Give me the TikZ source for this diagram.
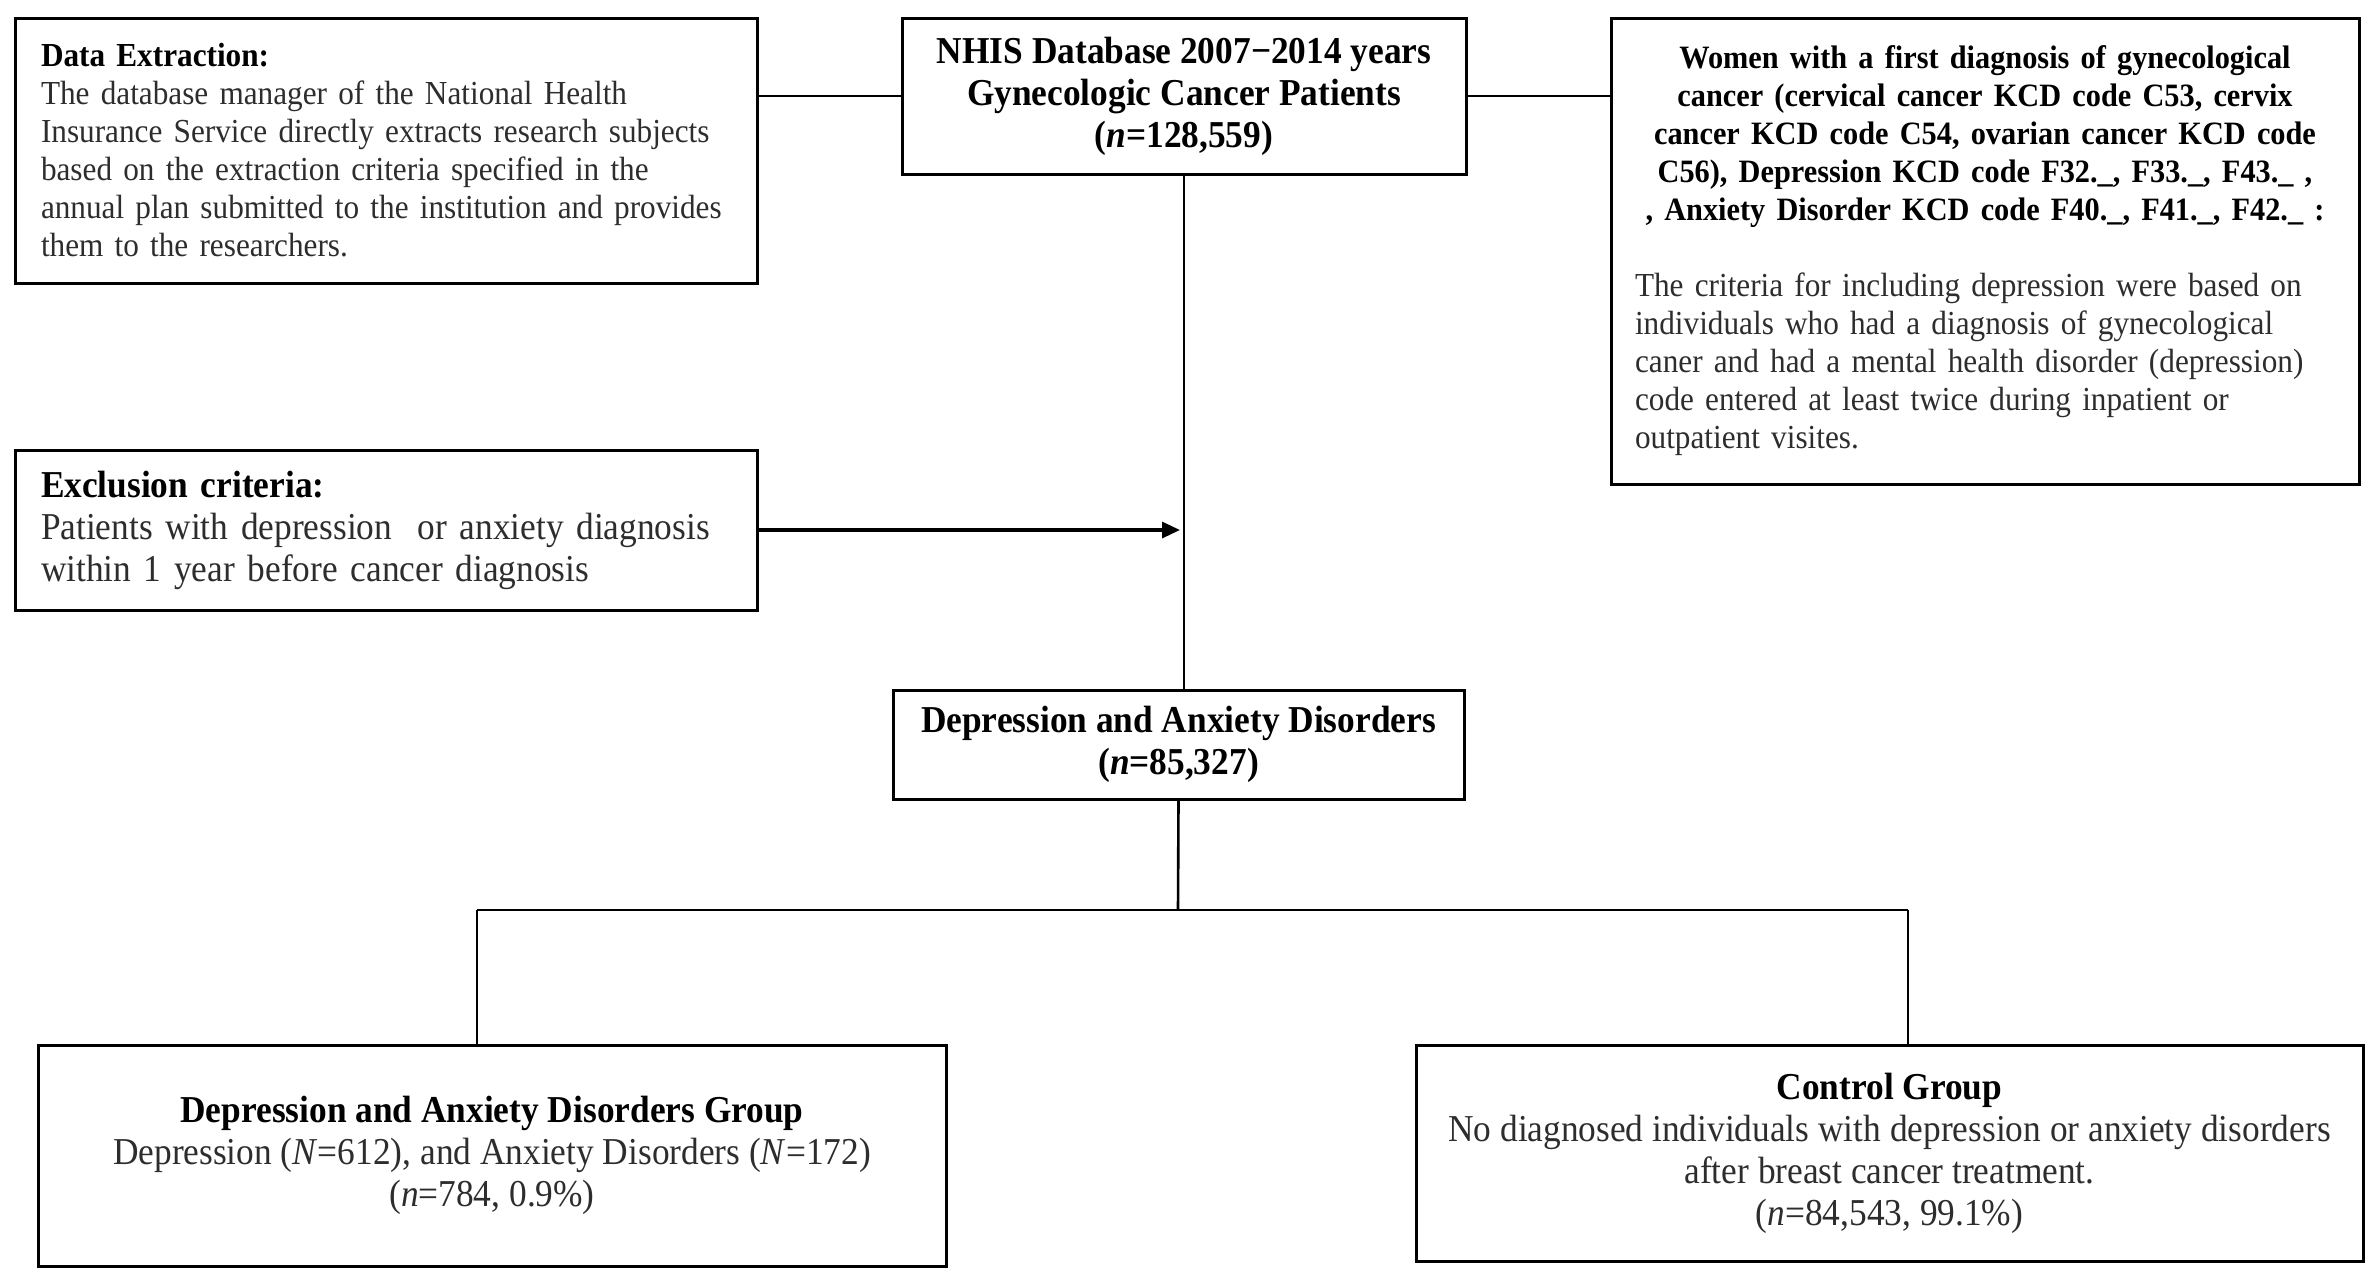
\documentclass[tikz,border=0pt]{standalone}
\usepackage{fontspec}
\setmainfont{Liberation Serif}[FakeStretch=0.93]
\usetikzlibrary{arrows.meta}
\definecolor{txt}{RGB}{45,45,45}
\tikzset{
  box/.style={draw=black, line width=1.5pt, inner sep=0pt, text=txt},
  big/.style={font=\fontsize{19}{21}\selectfont},
  small/.style={font=\fontsize{16.8}{19}\selectfont},
  conn/.style={line width=1.3pt, draw=black},
}
\begin{document}
\begin{tikzpicture}[x=0.5pt, y=-0.5pt]
\useasboundingbox (0,0) rectangle (2374,1282);

\node[box, small, minimum width=371pt, minimum height=132.5pt, text width=345pt, align=left] (dataext) at (386,150.5)
 {\textcolor{black}{\textbf{Data Extraction:}}\\
  The database manager of the National Health\\
  Insurance Service directly extracts research subjects\\
  based on the extraction criteria specified in the\\
  annual plan submitted to the institution and provides\\
  them to the researchers.};

\node[box, big, minimum width=282pt, minimum height=78pt, align=center, text=black] (nhis) at (1184,96)
 {\textbf{NHIS Database 2007−2014 years}\\
  \textbf{Gynecologic Cancer Patients}\\
  \textbf{(\textit{n}=128,559)}};

\node[box, small, minimum width=374pt, minimum height=233pt, text width=350pt, align=left] (women) at (1985,251)
 {{\centering\bfseries\color{black}\fontsize{16.3}{19}\selectfont
  Women with a first diagnosis of gynecological\\
  cancer (cervical cancer KCD code C53, cervix\\
  cancer KCD code C54, ovarian cancer KCD code\\
  C56), Depression KCD code F32.\_, F33.\_, F43.\_ ,\\
  \mbox{, Anxiety Disorder KCD code F40.\_, F41.\_, F42.\_ :}\par}
  \vspace{19pt}
  The criteria for including depression were based on\\
  individuals who had a diagnosis of gynecological\\
  caner and had a mental health disorder (depression)\\
  code entered at least twice during inpatient or\\
  outpatient visites.};

\node[box, big, minimum width=371pt, minimum height=80pt, text width=345pt, align=left] (excl) at (386,530)
 {\textcolor{black}{\textbf{Exclusion criteria:}}\\
  Patients with depression\ \ or anxiety diagnosis\\
  within 1 year before cancer diagnosis};

\node[box, big, minimum width=285.5pt, minimum height=54.5pt, align=center, text=black] (dep) at (1178.5,744.5)
 {\textbf{Depression and Anxiety Disorders}\\
  \textbf{(\textit{n}=85,327)}};

\node[box, big, minimum width=454pt, minimum height=110.5pt, align=center] (grp) at (492,1155.5)
 {\textcolor{black}{\textbf{Depression and Anxiety Disorders Group}}\\
  Depression (\textit{N}=612), and Anxiety Disorders (\textit{N}=172)\\
  (\textit{n}=784, 0.9\%)};

\node[box, big, minimum width=473.5pt, minimum height=108pt, align=center] (ctrl) at (1889.5,1153)
 {\textcolor{black}{\textbf{Control Group}}\\
  No diagnosed individuals with depression or anxiety disorders\\
  after breast cancer treatment.\\
  (\textit{n}=84,543, 99.1\%)};

% connectors
\draw[conn] (nhis.west) -- (nhis.west -| dataext.east);
\draw[conn] (nhis.east) -- (nhis.east -| women.west);
\draw[conn] (nhis.south) -- (nhis.south |- dep.north);
\draw[conn, line width=1.6pt, -{Triangle[length=9pt,width=8pt]}, shorten >=2pt] (excl.east) -- (nhis.south |- excl.east);

\coordinate (split) at (1178,910);
\coordinate (lj) at (477,910);
\coordinate (rj) at (1908,910);
\draw[conn] (dep.south) -- (split);
\draw[conn] (lj) -- (rj);
\draw[conn] (lj) -- (lj |- grp.north);
\draw[conn] (rj) -- (rj |- ctrl.north);
\end{tikzpicture}
\end{document}
